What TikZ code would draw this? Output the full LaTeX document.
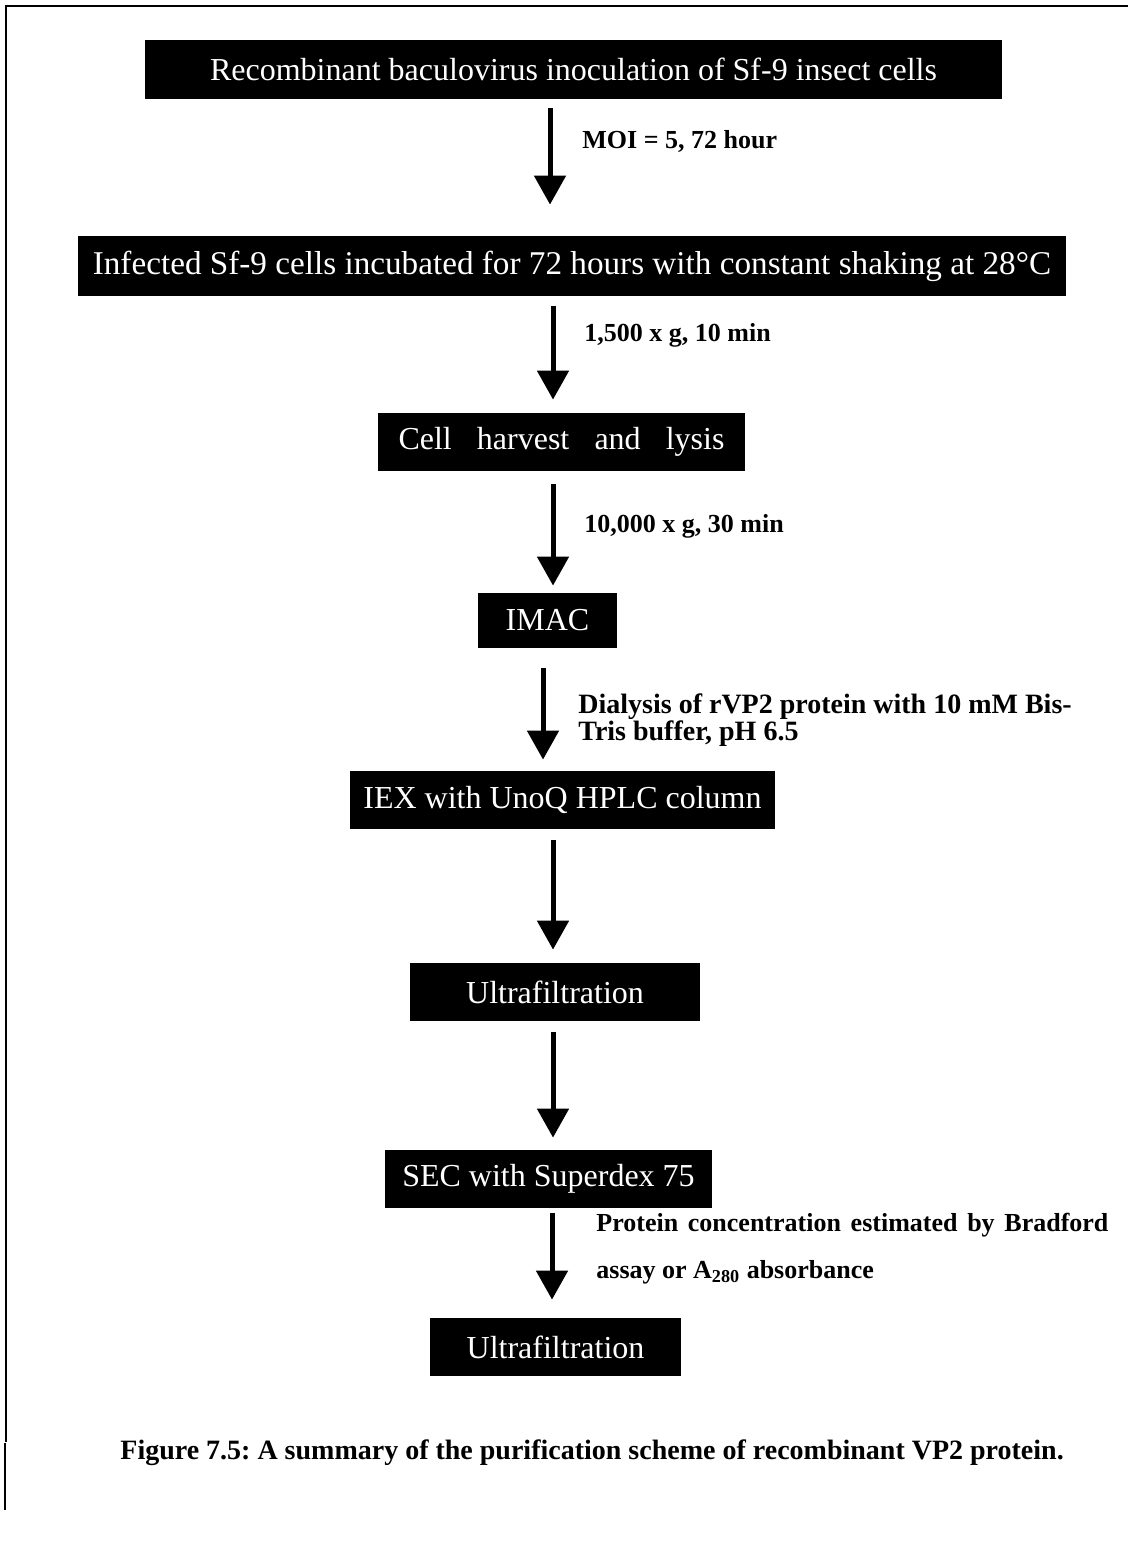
\documentclass[tikz,border=0pt]{standalone}
\usepackage{fontspec}
\setmainfont{Liberation Serif}
\usetikzlibrary{arrows.meta}
\usetikzlibrary{positioning}

\begin{document}
\frenchspacing
\begin{tikzpicture}[x=0.5pt,y=-0.5pt,
stepbox/.style={rectangle,fill=black,text=white,inner sep=0,font=\fontsize{16}{19}\selectfont},
note/.style={inner sep=0,align=left,font=\bfseries\fontsize{13}{13}\selectfont},
flow/.style={line width=2.5pt,-{Triangle[width=15.5pt,length=14.5pt]}}]
\useasboundingbox (0,0) rectangle (1128,1557);
\draw[line width=1pt] (1128,6) -- (6,6) -- (6,1442);
\draw[line width=1pt] (4.5,1443) -- (4.5,1510);
\node at (573.5,69.5)[stepbox,minimum width=428.5pt,minimum height=29.5pt](s1){Recombinant baculovirus inoculation of Sf-9 insect cells};
\node at (572,266)[stepbox,minimum width=494pt,minimum height=30pt,font=\fontsize{16.6}{19}\selectfont](s2){Infected Sf-9 cells incubated for 72 hours with constant shaking at 28°C};
\node at (561.5,442)[stepbox,minimum width=183.5pt,minimum height=29pt](s3){\makebox[163pt][s]{Cell harvest and lysis}};
\node at (547.5,620.5)[stepbox,minimum width=69.5pt,minimum height=27.5pt](s4){IMAC};
\node at (562.5,799.5)[stepbox,minimum width=212.5pt,minimum height=29pt](s5){IEX with UnoQ HPLC column};
\node at (555,992)[stepbox,minimum width=145pt,minimum height=29pt](s6){Ultrafiltration};
\node at (548.5,1179)[stepbox,minimum width=163.5pt,minimum height=29pt](s7){SEC with Superdex 75};
\node at (555.5,1347)[stepbox,minimum width=125.5pt,minimum height=29pt](s8){Ultrafiltration};
% conditions beside the arrows
\node at (582,149)[note,anchor=base west](m1){MOI = 5, 72 hour};
\node at (584,341)[note,anchor=base west](m2){1,500 x g, 10 min};
\node at (584,532)[note,anchor=base west](m3){10,000 x g, 30 min};
\node at (578,693)[note,anchor=north west,font=\bfseries\fontsize{14}{12.5}\selectfont](m4){Dialysis of rVP2 protein with 10 mM Bis-\\Tris buffer, pH 6.5};
\node at (596,1213)[note,anchor=north west,font=\bfseries\fontsize{13}{23.5}\selectfont](m7){\makebox[256pt][s]{Protein concentration estimated by Bradford}\\assay or A\textsubscript{280} absorbance};
% arrows
\draw[flow] ([shift={(-23.5,9)}]s1.south) -- ([shift={(-22,-31)}]s2.north);
\draw[flow] ([shift={(-19,10)}]s2.south) -- ([shift={(-8.5,-13)}]s3.north);
\draw[flow] ([shift={(-8.5,13)}]s3.south) -- ([shift={(5.5,-7)}]s4.north);
\draw[flow] ([shift={(-4.5,20)}]s4.south) -- ([shift={(-19.5,-10.5)}]s5.north);
\draw[flow] ([shift={(-9.5,11.5)}]s5.south) -- ([shift={(-2,-13)}]s6.north);
\draw[flow] ([shift={(-2,11)}]s6.south) -- ([shift={(4.5,-12)}]s7.north);
\draw[flow] ([shift={(3.5,5)}]s7.south) -- ([shift={(-3.5,-18)}]s8.north);
\node at (120,1459)[inner sep=0,anchor=base west,font=\bfseries\fontsize{14}{17}\selectfont](cap){Figure 7.5: A summary of the purification scheme of recombinant VP2 protein.};
\end{tikzpicture}
\end{document}
